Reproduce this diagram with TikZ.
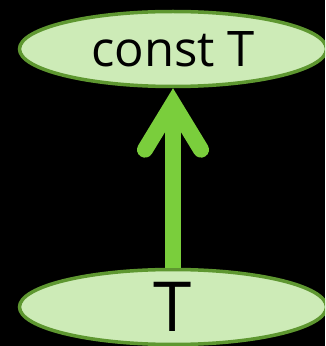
\documentclass[tikz,border=0pt]{standalone}
\usepackage{fontspec}
\setmainfont{Open Sans}
\usetikzlibrary{arrows.meta, shapes.geometric}
\definecolor{typefill}{RGB}{205,235,183}
\definecolor{typeedge}{RGB}{94,151,48}
\definecolor{arrowgreen}{RGB}{122,206,60}
\tikzset{
	typenode/.style={draw=typeedge, fill=typefill, ellipse, line width=3.5pt, minimum width=307pt, minimum height=75pt, inner sep=0pt, text=black},
	convarr/.style={-{Straight Barb[length=46pt, width=56pt, line join=miter, line cap=round]}, line width=16pt, draw=arrowgreen},
}
\begin{document}
\begin{tikzpicture}[x=1pt, y=1pt]
	% black page
	\fill[black] (0,0) rectangle (325,346);
	\clip (0,0) rectangle (325,346);
	% the two types
	\node[typenode, font=\fontsize{49}{55}\selectfont] (constT) at (173,297) {const T};
	\node[typenode, font=\fontsize{69}{75}\selectfont] (plainT) at (173,39) {T};
	% conversion arrow
	\draw[convarr] (plainT) -- (constT);
\end{tikzpicture}
\end{document}
